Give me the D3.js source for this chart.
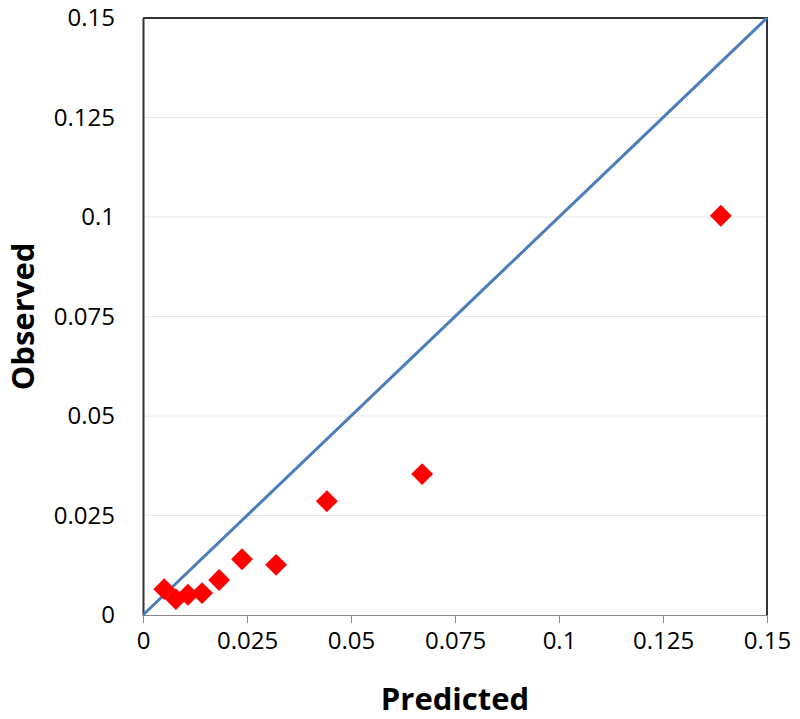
<!DOCTYPE html>
<html lang="en">
<head>
<meta charset="UTF-8">
<title>Observed vs Predicted</title>
<script src="https://cdn.jsdelivr.net/npm/d3@7"></script>
<style>
  body { margin: 0; background: #fff; }
  text { font-family: "Open Sans", "Liberation Sans", sans-serif; }
</style>
</head>
<body>
<script>

var w = 800;
var h = 719;
var margin = {top: 18, right: 33, bottom: 104, left: 143};

// data
var predicted = [0.0051, 0.0079, 0.0108, 0.0142, 0.0183, 0.0238, 0.0320, 0.0442, 0.0671, 0.1389];
var observed  = [0.0065, 0.0040, 0.0051, 0.0055, 0.0088, 0.0140, 0.0126, 0.0286, 0.0354, 0.1003];
var tickValues = [0, 0.025, 0.05, 0.075, 0.1, 0.125, 0.15];
var tickLabels = ["0", "0.025", "0.05", "0.075", "0.1", "0.125", "0.15"];
var identity = [0, 0.15];

var svg = d3.select("body")
    .append("svg")
    .attr("width", w)
    .attr("height", h);

var iw = w - margin.left - margin.right;
var ih = h - margin.top - margin.bottom;

var x = d3.scaleLinear().domain([0, 0.15]).range([0, iw]);
var y = d3.scaleLinear().domain([0, 0.15]).range([ih, 0]);

var g = svg.append("g")
    .attr("transform", "translate(" + margin.left + "," + margin.top + ")");

// horizontal gridlines
g.append("g")
    .selectAll("line")
    .data(tickValues.slice(1, -1))
    .enter()
    .append("line")
    .attr("x1", 0)
    .attr("x2", iw)
    .attr("y1", function(d) { return y(d); })
    .attr("y2", function(d) { return y(d); })
    .attr("stroke", "#e6e6e6")
    .attr("stroke-width", 1);

// x axis
var xAxis = g.append("g")
    .attr("transform", "translate(0," + ih + ")")
    .call(d3.axisBottom(x)
        .tickValues(tickValues)
        .tickFormat(function(d, i) { return tickLabels[i]; })
        .tickSize(8)
        .tickPadding(9));
xAxis.select(".domain").attr("stroke", "#888");
xAxis.selectAll(".tick line").attr("stroke", "#888");
xAxis.selectAll("text").attr("font-size", "24px").attr("fill", "#000");

// y axis
var yAxis = g.append("g")
    .call(d3.axisLeft(y)
        .tickValues(tickValues)
        .tickFormat(function(d, i) { return tickLabels[i]; })
        .tickSize(0)
        .tickPadding(28));
yAxis.select(".domain").attr("stroke", "#333").attr("stroke-width", 2);
yAxis.selectAll("text").attr("font-size", "24px").attr("fill", "#000");

// top and right border
g.append("path")
    .attr("d", "M0,0H" + iw + "V" + ih)
    .attr("fill", "none")
    .attr("stroke", "#333")
    .attr("stroke-width", 2);

// identity line
g.append("line")
    .attr("x1", x(identity[0]))
    .attr("y1", y(identity[0]))
    .attr("x2", x(identity[1]))
    .attr("y2", y(identity[1]))
    .attr("stroke", "#4a7ebb")
    .attr("stroke-width", 3);

// points
var diamond = d3.symbol().type(d3.symbolSquare).size(240);
g.append("g")
    .selectAll("path")
    .data(predicted)
    .enter()
    .append("path")
    .attr("d", diamond)
    .attr("transform", function(d, i) {
        return "translate(" + x(d) + "," + y(observed[i]) + ") rotate(45)";
    })
    .attr("fill", "#ff0000");

// axis titles
svg.append("text")
    .text("Predicted")
    .attr("x", margin.left + iw / 2)
    .attr("y", 710)
    .attr("text-anchor", "middle")
    .attr("font-size", "31px")
    .attr("font-weight", "bold");

svg.append("text")
    .text("Observed")
    .attr("transform", "translate(34," + (margin.top + ih / 2) + ") rotate(-90)")
    .attr("text-anchor", "middle")
    .attr("font-size", "31px")
    .attr("font-weight", "bold");

</script>
</body>
</html>
